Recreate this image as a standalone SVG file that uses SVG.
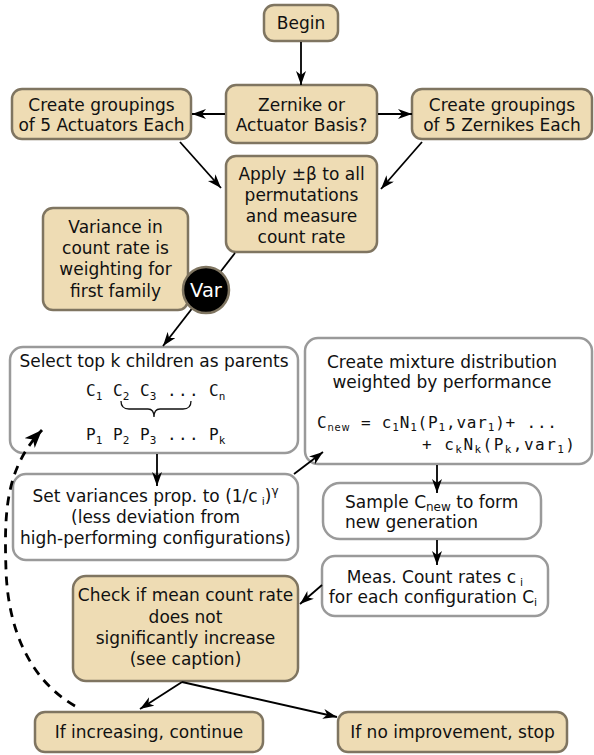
<svg xmlns="http://www.w3.org/2000/svg" width="594" height="755" viewBox="0 0 594 755">
<style>
.tan{fill:#eedcb4;stroke:#7f7561;stroke-width:2.5}
.wht{fill:#ffffff;stroke:#9a9a9a;stroke-width:2.5}
.t{font-family:"DejaVu Sans",sans-serif;font-size:17px;fill:#111;text-anchor:middle}
.tl{font-family:"DejaVu Sans",sans-serif;font-size:17px;fill:#111}
.m{font-family:"DejaVu Sans Mono",monospace;font-size:16px;fill:#111}
.sub{font-size:11px}
.e{fill:none;stroke:#000;stroke-width:1.8;marker-end:url(#ah)}
.d{fill:none;stroke:#000;stroke-width:2.8;stroke-dasharray:9,7;marker-end:url(#ahd)}
</style>
<defs>
<marker id="ah" markerUnits="userSpaceOnUse" markerWidth="15" markerHeight="11" refX="14" refY="5" orient="auto"><path d="M0,0 L14,5 L0,10 L4,5 z" fill="#000"/></marker>
<marker id="ahd" markerUnits="userSpaceOnUse" markerWidth="19" markerHeight="15" refX="18" refY="7" orient="auto"><path d="M0,0 L18,7 L0,14 L5,7 z" fill="#000"/></marker>
</defs>
<g id="begin"><rect class="tan" x="264" y="5" width="74" height="36" rx="10"/><text class="t" x="301" y="29">Begin</text></g>
<g id="basis"><rect class="tan" x="226" y="85" width="151" height="58" rx="10"/><text class="t" x="301.5" y="111">Zernike or</text><text class="t" x="301.5" y="131">Actuator Basis?</text></g>
<g id="actuators"><rect class="tan" x="12" y="89" width="179" height="50" rx="10"/><text class="t" x="101.5" y="111">Create groupings</text><text class="t" x="101.5" y="131">of 5 Actuators Each</text></g>
<g id="zernikes"><rect class="tan" x="412" y="89" width="180" height="50" rx="10"/><text class="t" x="502" y="111">Create groupings</text><text class="t" x="502" y="131">of 5 Zernikes Each</text></g>
<g id="apply"><rect class="tan" x="226" y="156" width="151" height="96" rx="10"/><text class="t" x="301.5" y="180">Apply ±β to all</text><text class="t" x="301.5" y="201">permutations</text><text class="t" x="301.5" y="222">and measure</text><text class="t" x="301.5" y="243">count rate</text></g>
<g id="variance"><rect class="tan" x="43" y="208" width="145" height="102" rx="10"/><text class="t" x="115.5" y="233">Variance in</text><text class="t" x="115.5" y="254">count rate is</text><text class="t" x="115.5" y="275">weighting for</text><text class="t" x="115.5" y="297">first family</text></g>
<g id="select"><rect class="wht" x="10" y="347" width="288" height="106" rx="13"/><text class="t" x="154" y="367">Select top k children as parents</text>
<text class="m" x="86" y="396">C<tspan class="sub" dy="4">1</tspan></text>
<text class="m" x="113" y="396">C<tspan class="sub" dy="4">2</tspan></text>
<text class="m" x="140" y="396">C<tspan class="sub" dy="4">3</tspan></text>
<text class="m" x="167" y="396">.</text><text class="m" x="178" y="396">.</text><text class="m" x="189" y="396">.</text>
<text class="m" x="209" y="396">C<tspan class="sub" dy="4">n</tspan></text>
<path d="M121,401 Q121,409 129,409 L148,409 Q154,409 154,417 Q154,409 160,409 L183,409 Q191,409 191,401" fill="none" stroke="#111" stroke-width="1.3"/>
<text class="m" x="86" y="440">P<tspan class="sub" dy="4">1</tspan></text>
<text class="m" x="113" y="440">P<tspan class="sub" dy="4">2</tspan></text>
<text class="m" x="140" y="440">P<tspan class="sub" dy="4">3</tspan></text>
<text class="m" x="167" y="440">.</text><text class="m" x="178" y="440">.</text><text class="m" x="189" y="440">.</text>
<text class="m" x="209" y="440">P<tspan class="sub" dy="4">k</tspan></text>
</g>
<g id="mixture"><rect class="wht" x="305" y="338" width="287" height="126" rx="13"/><text class="t" x="442" y="368">Create mixture distribution</text><text class="t" x="442" y="388">weighted by performance</text>
<text class="m" x="317" y="428" textLength="240" lengthAdjust="spacing">C<tspan style="font-family:'DejaVu Sans',sans-serif;font-size:10px" dy="3">new</tspan><tspan dy="-3"> = c</tspan><tspan class="sub" dy="3">1</tspan><tspan dy="-3">N</tspan><tspan class="sub" dy="3">1</tspan><tspan dy="-3">(P</tspan><tspan class="sub" dy="3">1</tspan><tspan dy="-3">,var</tspan><tspan class="sub" dy="3">1</tspan><tspan dy="-3">)+ ...</tspan></text>
<text class="m" x="422" y="450" textLength="153" lengthAdjust="spacing">+ c<tspan class="sub" dy="3">k</tspan><tspan dy="-3">N</tspan><tspan class="sub" dy="3">k</tspan><tspan dy="-3">(P</tspan><tspan class="sub" dy="3">k</tspan><tspan dy="-3">,var</tspan><tspan class="sub" dy="3">1</tspan><tspan dy="-3">)</tspan></text>
</g>
<g id="setvar"><rect class="wht" x="13" y="474" width="285" height="86" rx="13"/><text class="t" x="155.5" y="502">Set variances prop. to (1/c<tspan style="font-size:11px" dx="4" dy="3">i</tspan><tspan dy="-3">)</tspan><tspan style="font-size:12px" dy="-7">γ</tspan></text><text class="t" x="155.5" y="523">(less deviation from</text><text class="t" x="155.5" y="544">high-performing configurations)</text></g>
<g id="sample"><rect class="wht" x="323" y="483" width="218" height="56" rx="17"/><text class="tl" x="345" y="508">Sample C<tspan style="font-size:12px" dy="3">new</tspan><tspan dy="-3"> to form</tspan></text><text class="tl" x="345" y="528">new generation</text></g>
<g id="meas"><rect class="wht" x="322" y="556" width="226" height="60" rx="13"/><text class="t" x="435" y="583">Meas. Count rates c<tspan style="font-size:11px" dx="4" dy="3">i</tspan></text><text class="t" x="433" y="603">for each configuration C<tspan style="font-size:11px" dy="3">i</tspan></text></g>
<g id="check"><rect class="tan" x="73" y="576" width="225" height="105" rx="13"/><text class="t" x="185.5" y="601">Check if mean count rate</text><text class="t" x="185.5" y="623">does not</text><text class="t" x="185.5" y="644">significantly increase</text><text class="t" x="185.5" y="665">(see caption)</text></g>
<g id="continue"><rect class="tan" x="35" y="712" width="228" height="40" rx="10"/><text class="t" x="149" y="738">If increasing, continue</text></g>
<g id="stop"><rect class="tan" x="338" y="712" width="229" height="40" rx="10"/><text class="t" x="452.5" y="738">If no improvement, stop</text></g>
<g id="connectors">
<line class="e" x1="301" y1="42" x2="301" y2="85"/>
<line class="e" x1="225" y1="114" x2="192" y2="114"/>
<line class="e" x1="378" y1="114" x2="412" y2="114"/>
<line class="e" x1="180" y1="142" x2="221" y2="188"/>
<line class="e" x1="422" y1="142" x2="381" y2="189"/>
<line class="e" x1="235" y1="253" x2="163" y2="346"/>
<line class="e" x1="157" y1="454" x2="157" y2="486"/>
<line class="e" x1="294" y1="474" x2="323" y2="452"/>
<line class="e" x1="437" y1="465" x2="437" y2="493"/>
<line class="e" x1="437" y1="540" x2="437" y2="565"/>
<line class="e" x1="322" y1="585" x2="300" y2="604"/>
<line class="e" x1="182" y1="682" x2="140" y2="709"/>
<line class="e" x1="182" y1="682" x2="337" y2="717"/>
<path class="d" d="M75,706 C30,680 8,630 6,570 C4,510 6,468 42,430"/>
</g>
<g id="var"><circle cx="206" cy="290" r="23" fill="#000" stroke="#7f7561" stroke-width="2.5"/><text x="206" y="297" style="font-family:'DejaVu Sans',sans-serif;font-size:19.5px;fill:#fff;text-anchor:middle">Var</text></g>
</svg>
